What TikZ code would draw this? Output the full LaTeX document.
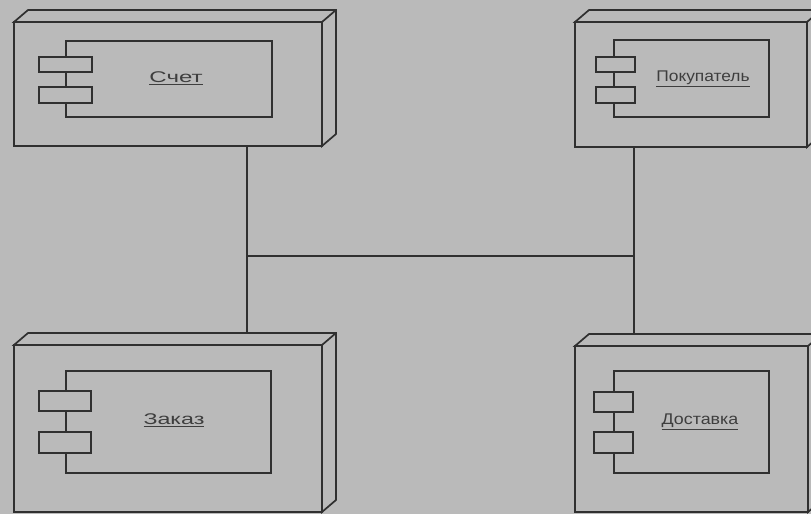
\documentclass[tikz,border=0pt]{standalone}
\usepackage{fontspec}
\setmainfont{Liberation Sans}
\usepackage{graphicx}
\definecolor{bgc}{RGB}{186,186,186}
\definecolor{inkc}{RGB}{48,48,48}
\definecolor{txtc}{RGB}{62,62,62}
\tikzset{
  ln/.style={draw=inkc, line width=1.7pt, line join=miter},
  face/.style={ln, fill=bgc, rectangle, inner sep=0pt, outer sep=0pt, anchor=north west},
  tab/.style={ln, line width=1.6pt, fill=bgc, rectangle, inner sep=0pt, outer sep=0pt, anchor=north west},
  lbl/.style={text=txtc, inner sep=0pt, font=\fontsize{15.5}{18}\selectfont}
}
% name, x, y, width, height
\newcommand{\devbox}[5]{%
  \node[face, minimum width=#4pt, minimum height=#5pt] (#1) at (#2,#3) {};
  \draw[ln, fill=bgc] (#1.north west) -- ++(14,-12) coordinate (#1-back) -- ++(#4,0) -- ++(0,#5) -- (#1.south east) -- (#1.north east) -- cycle;
  \draw[ln] (#1.north east) -- ++(14,-12);
}
\newcommand{\ulabel}[2]{\scalebox{#1}[1]{\underline{#2}}}
\begin{document}
\begin{tikzpicture}[x=1pt,y=-1pt]
\fill[bgc] (0,0) rectangle (811,514);
\useasboundingbox (0,0) rectangle (811,514);

% junction points of the links
\coordinate (j1) at (247,256);
\coordinate (j2) at (634,256);

% device nodes
\devbox{n1}{14}{22}{308}{124}
\devbox{n2}{575}{22}{232}{125}
\devbox{n3}{14}{345}{308}{167}
\devbox{n4}{575}{346}{233}{166}

% components
\node[tab, minimum width=206pt, minimum height=76pt] (c1) at (66,41) {};
\node[tab, minimum width=53pt, minimum height=15pt] (c1a) at (39,57) {};
\node[tab, minimum width=53pt, minimum height=16pt] (c1b) at (39,87) {};
\node[lbl] (t1) at (176,78) {\ulabel{1.55}{Счет}};

\node[tab, minimum width=155pt, minimum height=77pt] (c2) at (614,40) {};
\node[tab, minimum width=39pt, minimum height=15pt] (c2a) at (596,57) {};
\node[tab, minimum width=39pt, minimum height=16pt] (c2b) at (596,87) {};
\node[lbl] (t2) at (703,79) {\ulabel{1.12}{Покупатель}};

\node[tab, minimum width=205pt, minimum height=102pt] (c3) at (66,371) {};
\node[tab, minimum width=52pt, minimum height=20pt] (c3a) at (39,391) {};
\node[tab, minimum width=52pt, minimum height=21pt] (c3b) at (39,432) {};
\node[lbl] (t3) at (174,420) {\ulabel{1.5}{Заказ}};

\node[tab, minimum width=155pt, minimum height=102pt] (c4) at (614,371) {};
\node[tab, minimum width=39pt, minimum height=20pt] (c4a) at (594,392) {};
\node[tab, minimum width=39pt, minimum height=21pt] (c4b) at (594,432) {};
\node[lbl] (t4) at (700,422) {\ulabel{1.15}{Доставка}};

% links
\draw[ln] (j1 |- n1.south) -- (j1 |- n3-back);
\draw[ln] (j2 |- n2.south) -- (j2 |- n4-back);
\draw[ln] (j1) -- (j2);
\end{tikzpicture}
\end{document}
